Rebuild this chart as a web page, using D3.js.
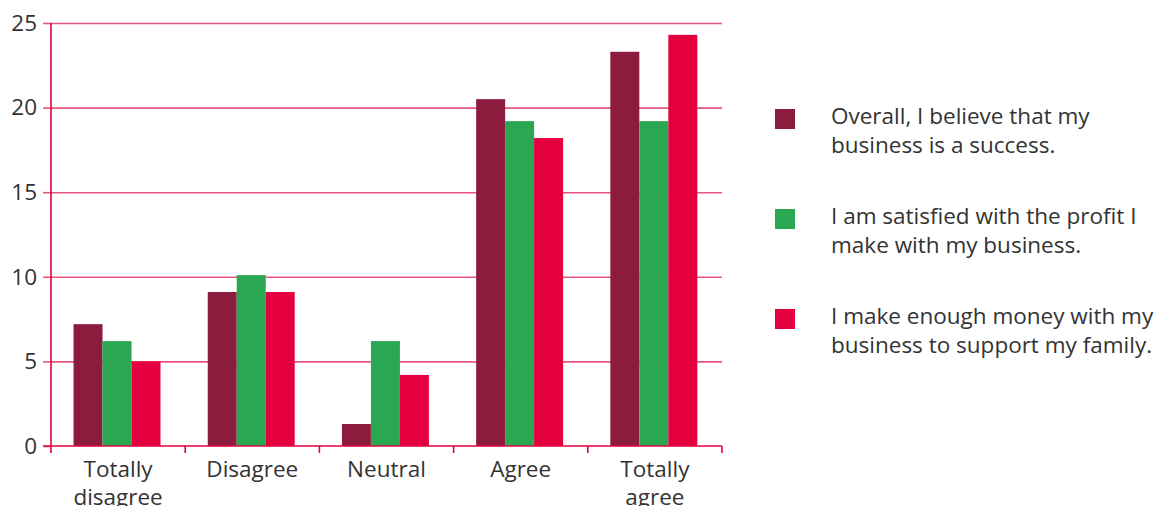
<!DOCTYPE html>
<html>
<head>
<meta charset="utf-8">
<script src="https://cdn.jsdelivr.net/npm/d3@7/dist/d3.min.js"></script>
<style>
  html, body { margin: 0; padding: 0; background: #fff; }
  svg text { font-family: "Open Sans", Lato, sans-serif; fill: #333; }
</style>
</head>
<body>
<svg id="chart" width="1157" height="506"></svg>
<script>
// Survey answers, percentage of respondents per answer
const categories = [["Totally", "disagree"], ["Disagree"], ["Neutral"], ["Agree"], ["Totally", "agree"]];
const seriesNames = [
  ["Overall, I believe that my", "business is a success."],
  ["I am satisfied with the profit I", "make with my business."],
  ["I make enough money with my", "business to support my family."]
];
const successValues = [7.2, 9.1, 1.3, 20.5, 23.3];
const profitValues  = [6.2, 10.1, 6.2, 19.2, 19.2];
const familyValues  = [5.0, 9.1, 4.2, 18.2, 24.3];
const yTicks = [0, 5, 10, 15, 20, 25];
const colors = ["#8c1c3e", "#29a851", "#e4003f"];

const series = [successValues, profitValues, familyValues];
const catKeys = categories.map(c => c.join(" "));

const svg = d3.select("#chart");
const plot = { left: 51, right: 722, top: 23, bottom: 446 };
const fontSize = 22.5;

const x0 = d3.scaleBand().domain(catKeys).range([plot.left, plot.right]).padding(0);
const bw = x0.bandwidth();
const x1 = d3.scaleBand().domain(d3.range(series.length)).range([bw * 0.168, bw * 0.816]).padding(0);
const y = d3.scaleLinear().domain([0, 25]).range([plot.bottom, plot.top]);

const gridColor = "#e8557e";
const axisColor = "#e4003f";

// horizontal gridlines with left tick stubs
const yAxis = d3.axisLeft(y).tickValues(yTicks).tickSize(8).tickPadding(6).tickFormat(d3.format("d"));
const gy = svg.append("g").attr("transform", `translate(${plot.left},0)`).call(yAxis);
gy.select(".domain").remove();
gy.selectAll(".tick line").attr("stroke", gridColor).attr("stroke-width", 1.6);
gy.selectAll(".tick text").attr("font-size", fontSize).attr("fill", "#333");
gy.selectAll(".tick").filter(d => d > 0).append("line")
  .attr("x1", 0).attr("x2", plot.right - plot.left)
  .attr("stroke", gridColor).attr("stroke-width", 1.6);

// bars
const groups = svg.append("g").selectAll("g")
  .data(catKeys).join("g")
  .attr("transform", d => `translate(${x0(d)},0)`);
groups.selectAll("rect")
  .data((d, i) => series.map((s, k) => ({ k, v: s[i] })))
  .join("rect")
  .attr("x", d => x1(d.k))
  .attr("width", x1.bandwidth())
  .attr("y", d => y(d.v))
  .attr("height", d => y(0) - y(d.v))
  .attr("fill", d => colors[d.k]);

// x axis with ticks at band boundaries
svg.append("line").attr("x1", plot.left - 8).attr("x2", plot.right)
  .attr("y1", plot.bottom).attr("y2", plot.bottom)
  .attr("stroke", axisColor).attr("stroke-width", 1.6);
svg.append("line").attr("x1", plot.left).attr("x2", plot.left)
  .attr("y1", plot.top).attr("y2", plot.bottom + 7)
  .attr("stroke", axisColor).attr("stroke-width", 1.6);
const boundaries = catKeys.map(c => x0(c) + bw);
svg.append("g").selectAll("line").data(boundaries).join("line")
  .attr("x1", d => d).attr("x2", d => d)
  .attr("y1", plot.bottom).attr("y2", plot.bottom + 7)
  .attr("stroke", axisColor).attr("stroke-width", 1.6);

// category labels
const labels = svg.append("g").selectAll("text").data(categories).join("text")
  .attr("text-anchor", "middle")
  .attr("font-size", fontSize)
  .attr("x", d => x0(d.join(" ")) + bw / 2)
  .attr("y", 477);
labels.selectAll("tspan").data(d => d).join("tspan")
  .attr("x", function () { return this.parentNode.getAttribute("x"); })
  .attr("dy", (d, i) => i === 0 ? 0 : 28)
  .text(d => d);

// legend
const legend = svg.append("g").selectAll("g").data(seriesNames).join("g")
  .attr("transform", (d, i) => `translate(775,${109 + i * 100})`);
legend.append("rect").attr("width", 20).attr("height", 20).attr("fill", (d, i) => colors[i]);
const lt = legend.append("text").attr("x", 56).attr("y", 15).attr("font-size", fontSize);
lt.selectAll("tspan").data(d => d).join("tspan")
  .attr("x", 56).attr("dy", (d, i) => i === 0 ? 0 : 29)
  .text(d => d);
</script>
</body>
</html>
